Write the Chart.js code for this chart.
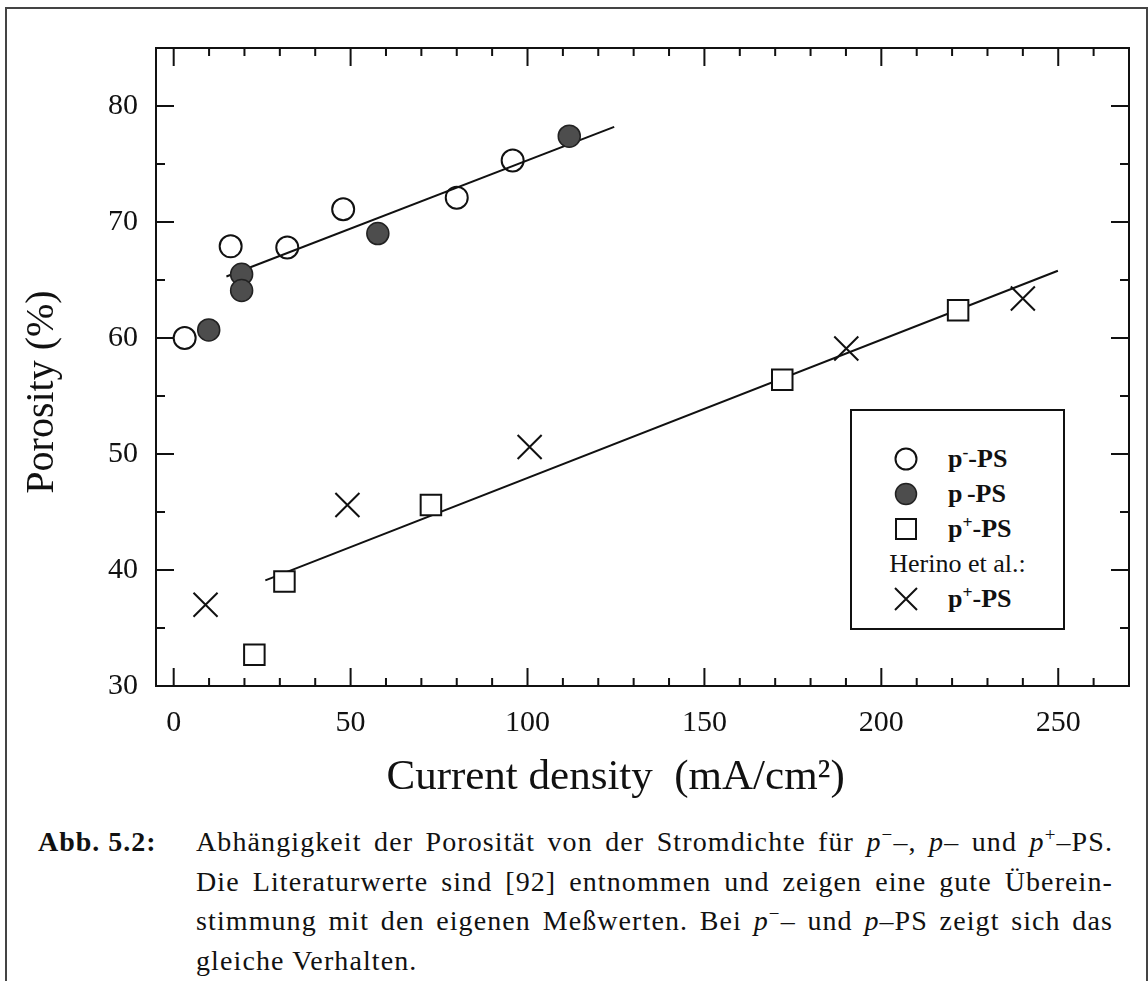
<!DOCTYPE html>
<html lang="de">
<head>
<meta charset="UTF-8" />
<title>Porosität vs. Stromdichte</title>
<script src="https://cdn.jsdelivr.net/npm/chart.js"></script>
<style>
  body { margin: 0; background: #fff; color: #111; font-family: 'Liberation Serif', serif; }
  #page { position: relative; width: 1148px; height: 981px; overflow: hidden; }
  #frame { position: absolute; left: 5px; top: 7px; width: 1139px; height: 1000px; border: 2px solid #444; border-bottom: none; }
  #plot { position: absolute; left: 0; top: 0; }
  #legend { position: absolute; left: 850px; top: 409px; width: 211px; height: 217px; border: 2px solid #111; background: #fff; }
  .row { position: absolute; left: 0; width: 211px; height: 34px; line-height: 34px; font-size: 26px; font-weight: bold; }
  .row svg { position: absolute; left: 41px; top: 4px; }
  .row span.t { position: absolute; left: 96px; }
  .row.head { font-weight: normal; text-align: center; left: 0; width: 100%; }
  .sup { font-size: 0.68em; position: relative; top: -0.5em; line-height: 0; }
  #abb { position: absolute; left: 38px; top: 822px; font-size: 28px; line-height: 39.5px; font-weight: bold; letter-spacing: 1px; }
  #caption { position: absolute; left: 196px; top: 822px; width: 917px; font-size: 28px; line-height: 39.5px; letter-spacing: 1.1px; }
  #caption div { text-align: justify; text-align-last: justify; white-space: nowrap; }
  #caption div.last { text-align-last: left; }
</style>
</head>
<body>
<div id="page">
  <div id="frame"></div>
  <canvas id="plot" width="1148" height="820"></canvas>

  <div id="legend">
    <div class="row" style="top:31px">
      <svg width="26" height="26"><circle cx="13" cy="13" r="10.5" fill="#fff" stroke="#111" stroke-width="2"/></svg>
      <span class="t">p<span class="sup">-</span>-PS</span>
    </div>
    <div class="row" style="top:66px">
      <svg width="26" height="26"><circle cx="13" cy="13" r="10.5" fill="#4d4d4d" stroke="#222" stroke-width="1.5"/></svg>
      <span class="t">p<span class="sup">&nbsp;</span>-PS</span>
    </div>
    <div class="row" style="top:101px">
      <svg width="26" height="26"><rect x="3" y="3" width="20" height="20" fill="#fff" stroke="#111" stroke-width="2"/></svg>
      <span class="t">p<span class="sup">+</span>-PS</span>
    </div>
    <div class="row head" style="top:136px">Herino et al.:</div>
    <div class="row" style="top:171px">
      <svg width="26" height="26"><path d="M2 2 L24 24 M24 2 L2 24" stroke="#111" stroke-width="2"/></svg>
      <span class="t">p<span class="sup">+</span>-PS</span>
    </div>
  </div>

  <div id="abb">Abb. 5.2:</div>
  <div id="caption">
    <div>Abhängigkeit der Porosität von der Stromdichte für <i>p</i><span class="sup">−</span>–, <i>p</i>– und <i>p</i><span class="sup">+</span>–PS.</div>
    <div>Die Literaturwerte sind [92] entnommen und zeigen eine gute Überein-</div>
    <div>stimmung mit den eigenen Meßwerten. Bei <i>p</i><span class="sup">−</span>– und <i>p</i>–PS zeigt sich das</div>
    <div class="last">gleiche Verhalten.</div>
  </div>
</div>

<script>
  const pMinusX = [3.1, 16.1, 32.1, 47.9, 80.0, 95.8];
  const pMinusY = [60.0, 67.9, 67.8, 71.1, 72.1, 75.3];
  const pX = [9.9, 19.2, 19.2, 57.7, 111.8];
  const pY = [60.7, 65.5, 64.1, 69.0, 77.4];
  const pPlusX = [22.8, 31.3, 72.7, 172.0, 221.7];
  const pPlusY = [32.7, 39.0, 45.6, 56.4, 62.4];
  const herinoX = [9.0, 49.1, 100.6, 190.1, 240.0];
  const herinoY = [37.0, 45.6, 50.6, 59.1, 63.4];

  // fitted lines (end points)
  const fitLowX = [14.9, 124.5];
  const fitLowY = [65.3, 78.2];
  const fitHighX = [25.9, 249.9];
  const fitHighY = [39.1, 65.8];

  const xTicks = [0, 50, 100, 150, 200, 250];
  const yTicks = [30, 40, 50, 60, 70, 80];

  const pts = (xs, ys) => xs.map((x, i) => ({ x, y: ys[i] }));
  const SERIF = "'Liberation Serif', 'Times New Roman', serif";

  // inward ticks on all four sides plus the plot frame
  const frameTicks = {
    id: 'frameTicks',
    beforeDatasetsDraw(chart) {
      const { ctx, chartArea: a, scales: { x, y } } = chart;
      ctx.save();
      ctx.strokeStyle = '#111';
      ctx.lineWidth = 2;
      ctx.strokeRect(a.left, a.top, a.right - a.left, a.bottom - a.top);
      ctx.beginPath();
      for (let v = 0; v <= 260; v += 10) {
        const px = x.getPixelForValue(v);
        const len = v % 50 === 0 ? 18 : 8;
        ctx.moveTo(px, a.bottom); ctx.lineTo(px, a.bottom - len);
        ctx.moveTo(px, a.top); ctx.lineTo(px, a.top + len);
      }
      for (let v = 35; v <= 80; v += 5) {
        const py = y.getPixelForValue(v);
        const len = v % 10 === 0 ? 18 : 9;
        ctx.moveTo(a.left, py); ctx.lineTo(a.left + len, py);
        ctx.moveTo(a.right, py); ctx.lineTo(a.right - len, py);
      }
      ctx.stroke();
      ctx.restore();
    }
  };

  new Chart(document.getElementById('plot'), {
    type: 'scatter',
    data: {
      datasets: [
        { label: 'p--PS', data: pts(pMinusX, pMinusY), pointStyle: 'circle', pointRadius: 11,
          backgroundColor: 'rgba(255,255,255,0)', borderColor: '#111', borderWidth: 2, order: 1 },
        { label: 'p -PS', data: pts(pX, pY), pointStyle: 'circle', pointRadius: 11,
          backgroundColor: '#4d4d4d', borderColor: '#222', borderWidth: 1.5, order: 1 },
        { label: 'p+-PS', data: pts(pPlusX, pPlusY), pointStyle: 'rect', pointRadius: 14.5,
          backgroundColor: '#fff', borderColor: '#111', borderWidth: 2, order: 1 },
        { label: 'Herino et al.: p+-PS', data: pts(herinoX, herinoY), pointStyle: 'crossRot', pointRadius: 17,
          borderColor: '#111', borderWidth: 2, order: 1 },
        { label: 'fit p-/p', data: pts(fitLowX, fitLowY), showLine: true, pointRadius: 0,
          borderColor: '#111', borderWidth: 2, order: 5 },
        { label: 'fit p+', data: pts(fitHighX, fitHighY), showLine: true, pointRadius: 0,
          borderColor: '#111', borderWidth: 2, order: 5 }
      ]
    },
    options: {
      responsive: false,
      animation: false,
      layout: { padding: { top: 48, right: 17, left: 0, bottom: 0 } },
      plugins: { legend: { display: false }, tooltip: { enabled: false } },
      scales: {
        x: {
          type: 'linear', min: -5, max: 270,
          grid: { display: false, drawTicks: false },
          border: { display: false },
          afterBuildTicks: s => { s.ticks = xTicks.map(v => ({ value: v })); },
          afterFit: s => { s.height = 134; },
          ticks: { color: '#111', padding: 19, font: { family: SERIF, size: 30 } },
          title: { display: true, text: 'Current density  (mA/cm²)\u2003 ', color: '#111',
                   padding: { top: 0, bottom: 16 }, font: { family: SERIF, size: 43 } }
        },
        y: {
          type: 'linear', min: 30, max: 85,
          grid: { display: false, drawTicks: false },
          border: { display: false },
          afterBuildTicks: s => { s.ticks = yTicks.map(v => ({ value: v })); },
          afterFit: s => { s.width = 156; },
          ticks: { color: '#111', padding: 18, font: { family: SERIF, size: 30 } },
          title: { display: true, text: 'Porosity (%)\u2003 ', color: '#111',
                   padding: { top: 18, bottom: 0 }, font: { family: SERIF, size: 40 } }
        }
      }
    },
    plugins: [frameTicks]
  });
</script>
</body>
</html>
